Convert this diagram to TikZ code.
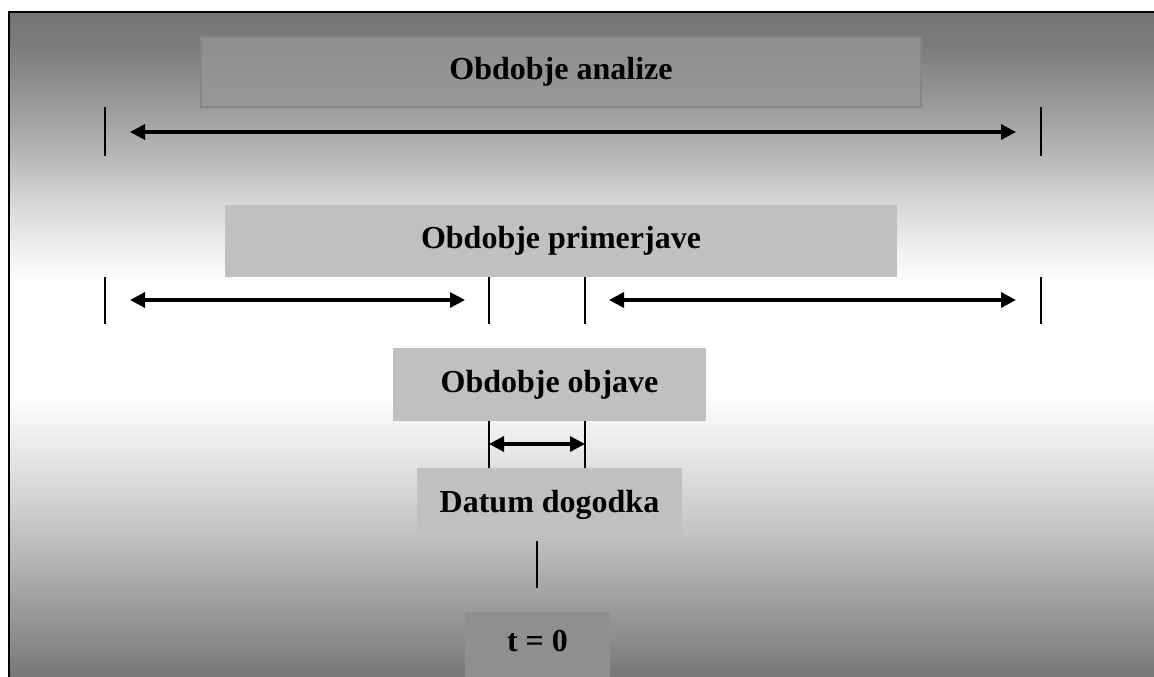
\documentclass[tikz,border=0pt]{standalone}
\usepackage{fontspec}
\setmainfont{Liberation Serif}
\usetikzlibrary{arrows.meta}
\definecolor{boxlight}{HTML}{C0C0C0}
\definecolor{boxdark}{HTML}{8F8F8F}
\definecolor{boxmid}{HTML}{979797}
\definecolor{boxedge}{HTML}{868686}
\pgfdeclareverticalshading{bgshade}{100bp}{%
  rgb(0bp)=(0.463,0.463,0.463);
  rgb(25bp)=(0.463,0.463,0.463);
  rgb(27.03bp)=(0.525,0.525,0.525);
  rgb(30.79bp)=(0.627,0.627,0.627);
  rgb(34.55bp)=(0.729,0.729,0.729);
  rgb(38.31bp)=(0.824,0.824,0.824);
  rgb(42.07bp)=(0.91,0.91,0.91);
  rgb(46.2bp)=(1,1,1);
  rgb(54.47bp)=(1,1,1);
  rgb(57.11bp)=(0.941,0.941,0.941);
  rgb(60.86bp)=(0.835,0.835,0.835);
  rgb(64.62bp)=(0.706,0.706,0.706);
  rgb(68.38bp)=(0.596,0.596,0.596);
  rgb(72.14bp)=(0.49,0.49,0.49);
  rgb(75bp)=(0.459,0.459,0.459);
  rgb(100bp)=(0.459,0.459,0.459)}
\begin{document}
\begin{tikzpicture}[x=1pt,y=-1pt,
  box/.style={rectangle, inner sep=0pt, text=black,
    font=\fontsize{32}{38}\selectfont\bfseries},
  lightbox/.style={box, fill=boxlight},
  tickline/.style={line width=1.6pt, black},
  span/.style={line width=3.2pt, black,
    {Triangle[length=15pt,width=15pt]}-{Triangle[length=15pt,width=15pt]}}]
\useasboundingbox (0,0) rectangle (1154,677);
\clip (0,0) rectangle (1154,677);
% background
\shade[shading=bgshade] (9,12) rectangle (1160,677);
\draw[line width=2.2pt, black] (9,700) -- (9,12) -- (1170,12);

% boxes
\node[box, fill=boxmid, fill opacity=0.75, text opacity=1, draw=boxedge, draw opacity=1,
      line width=2pt, minimum width=720pt, minimum height=70pt] (ana) at (561,72) {Obdobje analize};
\node[lightbox, minimum width=672pt, minimum height=72pt] (prim) at (561,241) {Obdobje primerjave};
\node[lightbox, minimum width=313pt, minimum height=73pt] (obj) at (549.5,384.5) {Obdobje objave};
\node[lightbox, minimum width=265pt, minimum height=73pt] (dat) at (549.5,504.5) {Datum dogodka};
\node[rectangle, inner sep=0pt, fill=boxdark, minimum width=145pt, minimum height=80pt, anchor=north] (t0box) at (537.5,612) {};
\node[box] (t0) at (537.5,641) {t = 0};

% row 1
\coordinate (a1) at (130,132);
\coordinate (a2) at (1016,132);
\draw[tickline] (105,107) -- (105,156);
\draw[tickline] (1041,107) -- (1041,156);
\draw[span] (a1) -- (a2);

% row 2
\coordinate (p1) at (130,300);
\coordinate (p2) at (465,300);
\coordinate (p3) at (609,300);
\coordinate (p4) at (1016,300);
\draw[tickline] (105,277) -- (105,324);
\draw[tickline] (489,277) -- (489,324);
\draw[tickline] (585,277) -- (585,324);
\draw[tickline] (1041,277) -- (1041,324);
\draw[span] (p1) -- (p2);
\draw[span] (p3) -- (p4);

% row 3
\coordinate (o1) at (489,444);
\coordinate (o2) at (585,444);
\draw[tickline] (489,421) -- (489,468);
\draw[tickline] (585,421) -- (585,468);
\draw[span] (o1) -- (o2);

% row 4
\coordinate (d1) at (537,541);
\coordinate (d2) at (537,588);
\draw[tickline] (d1) -- (d2);
\end{tikzpicture}
\end{document}
